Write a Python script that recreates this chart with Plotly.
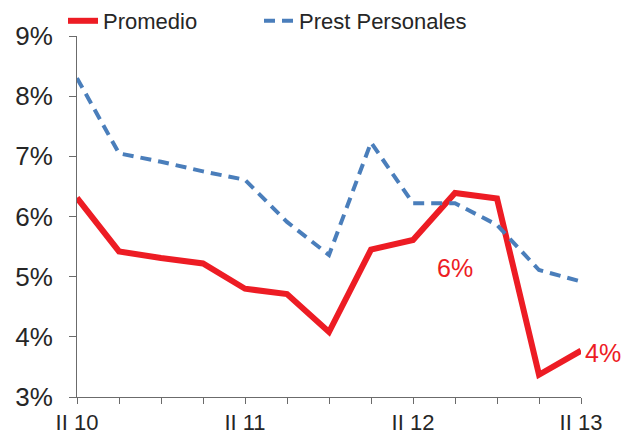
import plotly.graph_objects as go

quarters = ["II 10", "III 10", "IV 10", "I 11", "II 11", "III 11", "IV 11",
            "I 12", "II 12", "III 12", "IV 12", "I 13", "II 13"]
tick_labels = ["II 10", "", "", "", "II 11", "", "", "", "II 12", "", "", "", "II 13"]
promedio = [6.31, 5.42, 5.31, 5.22, 4.80, 4.71, 4.08, 5.45, 5.61, 6.39, 6.30, 3.37, 3.77]
prest_personales = [8.30, 7.05, 6.91, 6.75, 6.61, 5.91, 5.36, 7.23, 6.22, 6.22, 5.86, 5.11, 4.92]

RED = "#ED1C24"
BLUE = "#4A7EBB"
TXT = "#262626"
AX = "#6b6b6b"
FONT = "Liberation Sans, Arial"

fig = go.Figure()
fig.add_trace(go.Scatter(x=quarters, y=promedio, mode="lines", name="Promedio",
                         line=dict(color=RED, width=6), cliponaxis=False, legend="legend"))
fig.add_trace(go.Scatter(x=quarters, y=prest_personales, mode="lines", name="Prest Personales",
                         line=dict(color=BLUE, width=4, dash="11px,7px"), cliponaxis=False,
                         legend="legend2"))

fig.add_annotation(x=quarters[9], y=5.15, text="6%", showarrow=False,
                   font=dict(color=RED, size=25, family=FONT))
fig.add_annotation(x=quarters[12], y=3.73, text="4%", showarrow=False, xanchor="left",
                   xshift=2, font=dict(color=RED, size=25, family=FONT))

leg_common = dict(orientation="h", xref="container", yref="container", y=1.0, yanchor="top",
                  font=dict(size=22, color=TXT), bgcolor="rgba(0,0,0,0)")

fig.update_layout(
    width=636, height=434,
    margin=dict(l=77, r=55, t=36, b=37, autoexpand=False),
    paper_bgcolor="white", plot_bgcolor="white",
    font=dict(family=FONT, size=22, color=TXT),
    showlegend=True,
    legend=dict(x=63 / 636, **leg_common),
    legend2=dict(x=259 / 636, **leg_common),
    xaxis=dict(type="category", range=[0, 12], tickmode="array", tickvals=quarters,
               ticktext=tick_labels, showgrid=False, zeroline=False,
               showline=True, linecolor=AX, linewidth=1,
               ticks="outside", ticklen=6, tickcolor=AX, ticklabelstandoff=0,
               tickfont=dict(size=22, color=TXT)),
    yaxis=dict(range=[3, 9], dtick=1, ticksuffix="%", showgrid=False, zeroline=False,
               showline=True, linecolor=AX, linewidth=1,
               ticks="outside", ticklen=7, tickcolor=AX, ticklabelstandoff=11,
               tickfont=dict(size=26, color=TXT)),
)

fig.write_html("out.html", post_script="document.body.style.margin='0';",
               config={"displayModeBar": False})
